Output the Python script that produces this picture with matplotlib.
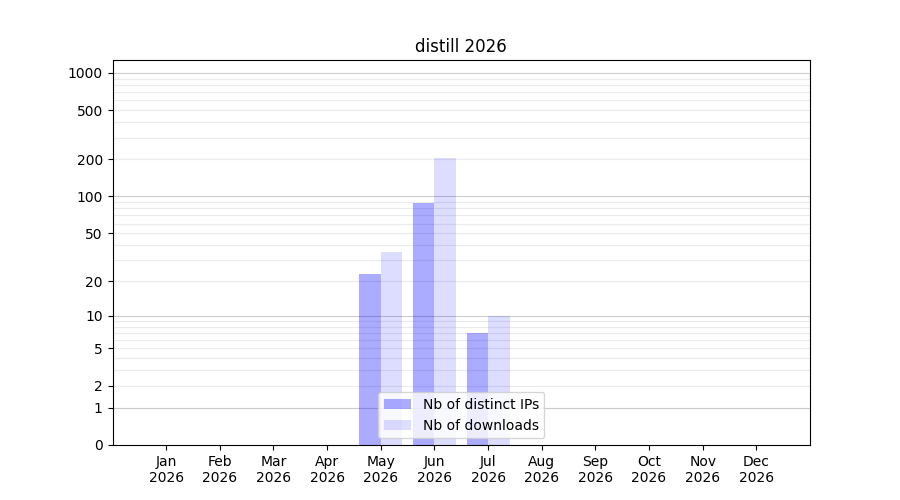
import numpy as np
import matplotlib
matplotlib.use("Agg")
import matplotlib.pyplot as plt

months = ["Jan", "Feb", "Mar", "Apr", "May", "Jun", "Jul", "Aug", "Sep", "Oct", "Nov", "Dec"]
year = "2026"
distinct_ips = [0, 0, 0, 0, 23, 89, 7, 0, 0, 0, 0, 0]
downloads = [0, 0, 0, 0, 35, 205, 10, 0, 0, 0, 0, 0]
ytick_values = [0, 1, 2, 5, 10, 20, 50, 100, 200, 500, 1000]

def fwd(y):
    return np.log10(1 + np.clip(y, 0, None))

def inv(y):
    return 10 ** y - 1

fig, ax = plt.subplots(figsize=(9, 5), dpi=100)
ax.set_yscale("function", functions=(fwd, inv))

x = np.arange(len(months))
ax.bar(x - 0.2, distinct_ips, width=0.4, color="blue", alpha=0.33, label="Nb of distinct IPs", zorder=2)
ax.bar(x + 0.2, downloads, width=0.4, color="blue", alpha=0.134, label="Nb of downloads", zorder=2)

# grid lines
for dec in [1, 10, 100]:
    for m in range(2, 10):
        ax.axhline(dec * m, color="#ebebeb", lw=0.8, zorder=0)
for dec in [1, 10, 100, 1000]:
    ax.axhline(dec, color="#cccccc", lw=0.8, zorder=1)

ax.set_ylim(0, 1270)
ax.set_xlim(-1, 12)
ax.set_yticks(ytick_values)
ax.set_yticklabels([str(v) for v in ytick_values])
ax.yaxis.set_minor_locator(matplotlib.ticker.NullLocator())
ax.set_xticks(x)
ax.set_xticklabels([f"{m}\n{year}" for m in months])
ax.set_title("distill 2026")
ax.legend(loc="lower center")

fig.savefig("out.png")
